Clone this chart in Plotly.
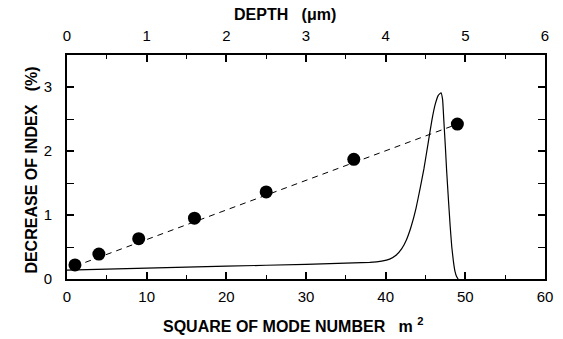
import plotly.graph_objects as go

# Data
mode_sq = [1, 4, 9, 16, 25, 36, 49]
decrease = [0.22, 0.39, 0.63, 0.95, 1.36, 1.87, 2.42]
fit_x = [1, 49]
fit_y = [0.2, 2.42]
curve_x = [0, 10, 20, 30, 38, 39.5, 40.5, 41.3, 42, 42.6, 43.2, 43.8, 44.3, 44.8, 45.3,
           45.8, 46.2, 46.6, 46.95, 47.15, 47.3, 47.5, 47.65, 47.9, 48.1, 48.3, 48.5, 48.7, 48.9, 49.1]
curve_y = [0.14, 0.17, 0.2, 0.23, 0.26, 0.28, 0.31, 0.37, 0.47, 0.61, 0.82, 1.1, 1.4, 1.72, 2.1,
           2.48, 2.72, 2.87, 2.91, 2.8, 2.48, 2.05, 1.70, 1.2, 0.82, 0.5, 0.28, 0.12, 0.04, 0.0]
bottom_ticks = [0, 10, 20, 30, 40, 50, 60]
top_ticks = [0, 1, 2, 3, 4, 5, 6]
y_ticks = [0, 1, 2, 3]

FONT = "Liberation Sans, Arial, sans-serif"
W, H = 563, 339
L, R, T, B = 67, 10, 55, 60

fig = go.Figure()
fig.add_trace(go.Scatter(x=curve_x, y=curve_y, mode="lines",
                         line=dict(color="black", width=1.2, shape="spline", smoothing=0.3)))
fig.add_trace(go.Scatter(x=fit_x, y=fit_y, mode="lines",
                         line=dict(color="black", width=1, dash="6px,5px")))
fig.add_trace(go.Scatter(x=mode_sq, y=decrease, mode="markers",
                         marker=dict(color="black", size=13)))
# dummy trace for top (depth) axis
fig.add_trace(go.Scatter(x=[0, 6], y=[0, 0], xaxis="x2", mode="lines",
                         line=dict(width=0), hoverinfo="skip"))

minor_common = dict(ticklen=4, ticks="inside", tickcolor="black", tickwidth=1.2)
axis_common = dict(showline=True, linecolor="black", linewidth=2, ticks="inside",
                   tickcolor="black", tickwidth=1.5, showgrid=False, zeroline=False, ticklen=7,
                   mirror="allticks",
                   tickfont=dict(family=FONT, size=15, color="black"))

fig.update_layout(
    width=W, height=H, autosize=False,
    margin=dict(l=L, r=R, t=T, b=B, pad=0),
    paper_bgcolor="white", plot_bgcolor="white",
    showlegend=False,
    xaxis=dict(range=[0, 60], tickvals=bottom_ticks, ticklabelstandoff=3,
               minor=dict(dtick=5, **minor_common), **axis_common),
    xaxis2=dict(range=[0, 6], tickvals=top_ticks, overlaying="x", side="top",
                ticklabelstandoff=10, ticks="", showline=False, showgrid=False, zeroline=False,
                tickfont=dict(family=FONT, size=15, color="black")),
    yaxis=dict(range=[0, 3.5], tickvals=y_ticks, ticklabelstandoff=10,
               minor=dict(dtick=0.5, **minor_common), **axis_common),
    annotations=[
        dict(text="<b>SQUARE OF MODE NUMBER   m <sup>2</sup></b>", x=297, y=325, showarrow=False),
        dict(text="<b>DEPTH   (μm)</b>", x=289, y=15, showarrow=False),
        dict(text="<b>DECREASE OF INDEX   (%)</b>", x=30, y=170, textangle=-90, showarrow=False),
    ],
)

# convert pixel positions of titles into paper coordinates
pw, ph = W - L - R, H - T - B
for a in fig.layout.annotations:
    a.xref = "paper"
    a.yref = "paper"
    a.x = (a.x - L) / pw
    a.y = (H - B - a.y) / ph
    a.xanchor = "center"
    a.yanchor = "middle"
    a.font = dict(family=FONT, size=16, color="black")

fig.write_html("out.html")
